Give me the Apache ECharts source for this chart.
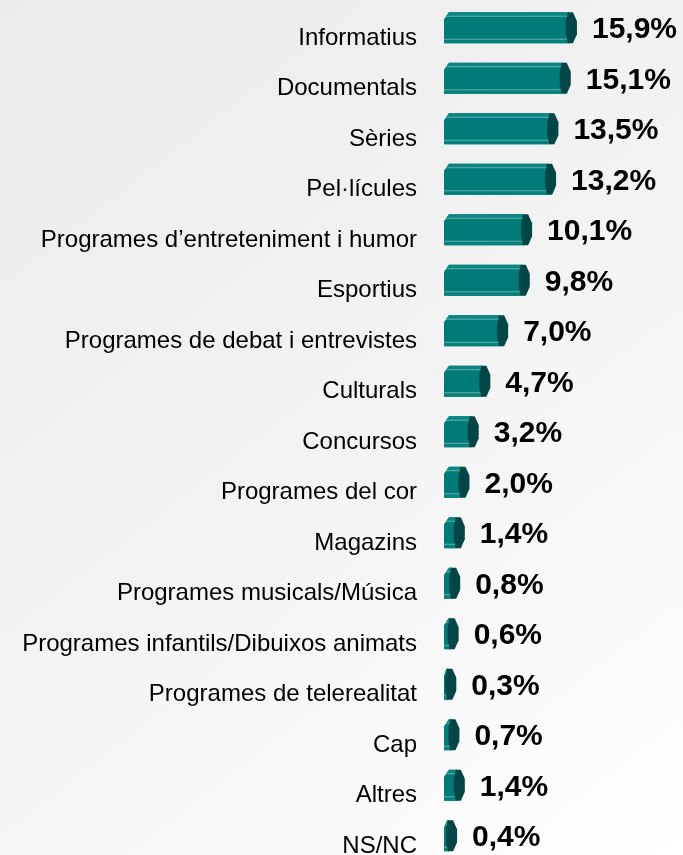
<!DOCTYPE html>
<html>
<head>
<meta charset="utf-8">
<style>
  html, body { margin: 0; padding: 0; overflow: hidden; }
  #chart { width: 683px; height: 880px; }
</style>
<script src="https://cdn.jsdelivr.net/npm/echarts@6/dist/echarts.min.js"></script>
</head>
<body>
<div id="chart"></div>
<script>
// Programme genres and the share (%) of each
const categories = [
  'Informatius',
  'Documentals',
  'Sèries',
  'Pel·lícules',
  'Programes d\u2019entreteniment i humor',
  'Esportius',
  'Programes de debat i entrevistes',
  'Culturals',
  'Concursos',
  'Programes del cor',
  'Magazins',
  'Programes musicals/Música',
  'Programes infantils/Dibuixos animats',
  'Programes de telerealitat',
  'Cap',
  'Altres',
  'NS/NC'
];
const shares = [15.9, 15.1, 13.5, 13.2, 10.1, 9.8, 7.0, 4.7, 3.2, 2.0, 1.4, 0.8, 0.6, 0.3, 0.7, 1.4, 0.4];

const FONT = "'Liberation Sans', Arial, Helvetica, sans-serif";
const FACE = '#007b78';
const FACE_TOP = '#0b8683';
const FACE_BOTTOM = '#06807d';
const EDGE = '#5fb0ad';
const CAP = '#044646';

// One octagonal prism per category: front face, two bevel strips, and an end cap
function renderPrism(params, api) {
  const v = api.value(0);
  const i = api.value(1);
  const p0 = api.coord([0, i]);
  const p1 = api.coord([v, i]);
  const cy = p0[1] - 10.5;
  const h = 31;
  const top = cy - h / 2;
  const bot = cy + h / 2;
  const x0 = p0[0];
  const x1 = Math.max(p1[0], x0 + 1);
  const ch = Math.min(5, Math.max(1, x1 - x0));

  const children = [];
  // front face with chamfered left corner
  children.push({
    type: 'polygon',
    shape: { points: [[x0 + ch, top], [x1 + 2, top], [x1 + 2, bot], [x0 + 1, bot], [x0, bot - 1], [x0, top + 7]] },
    style: { fill: FACE }
  });
  // upper bevel strip
  children.push({
    type: 'polygon',
    shape: { points: [[x0 + ch, top], [x1 + 2, top], [x1 + 2, top + 4], [x0 + 2, top + 4]] },
    style: { fill: FACE_TOP }
  });
  // lower bevel strip
  children.push({
    type: 'rect',
    shape: { x: x0, y: bot - 4, width: x1 + 2 - x0, height: 4 },
    style: { fill: FACE_BOTTOM }
  });
  // highlight edges
  children.push({
    type: 'line',
    shape: { x1: x0 + 2, y1: top + 4, x2: x1 + 1, y2: top + 4 },
    style: { stroke: EDGE, lineWidth: 1 }
  });
  children.push({
    type: 'line',
    shape: { x1: x0, y1: bot - 4, x2: x1 + 1, y2: bot - 4 },
    style: { stroke: EDGE, lineWidth: 1 }
  });
  // end cap
  children.push({
    type: 'polygon',
    shape: {
      points: [
        [x1 + 1, top], [x1 + 6, top], [x1 + 10, top + 9], [x1 + 10, bot - 9],
        [x1 + 6, bot], [x1 + 1, bot], [x1 - 1, bot - 9], [x1 - 1, top + 9]
      ]
    },
    style: { fill: CAP }
  });
  // value label
  children.push({
    type: 'text',
    style: {
      x: x1 + 25,
      y: cy + 2,
      text: v.toFixed(1).replace('.', ',') + '%',
      fill: '#000000',
      font: 'bold 30px ' + FONT,
      align: 'left',
      verticalAlign: 'middle'
    }
  });
  return { type: 'group', children: children };
}

const chart = echarts.init(document.getElementById('chart'), null, { renderer: 'canvas' });
chart.setOption({
  animation: false,
  backgroundColor: {
    type: 'linear', x: 0, y: 0, x2: 1, y2: 1,
    colorStops: [
      { offset: 0, color: '#ebebeb' },
      { offset: 0.5, color: '#f3f3f3' },
      { offset: 1, color: '#ffffff' }
    ]
  },
  grid: { left: 444, top: 13, width: 232, height: 858.5, containLabel: false },
  xAxis: {
    type: 'value', min: 0, max: 30, show: false
  },
  yAxis: {
    type: 'category',
    data: categories,
    inverse: true,
    axisLine: { show: false },
    axisTick: { show: false },
    splitLine: { show: false },
    axisLabel: {
      margin: 27,
      fontSize: 24,
      fontFamily: FONT,
      color: '#000000'
    }
  },
  series: [{
    type: 'custom',
    renderItem: renderPrism,
    encode: { x: 0, y: 1 },
    data: shares.map((v, i) => [v, i])
  }]
});
</script>
</body>
</html>
